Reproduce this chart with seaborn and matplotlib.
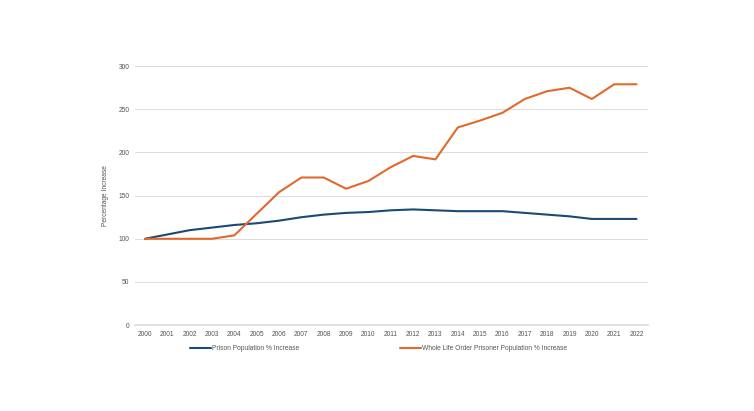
import matplotlib
matplotlib.use("Agg")
import matplotlib.pyplot as plt
import seaborn as sns
import pandas as pd
from matplotlib.lines import Line2D

years = list(range(2000, 2023))
prison = [100, 105, 110, 113, 116, 118, 121, 125, 128, 130, 131, 133, 134,
          133, 132, 132, 132, 130, 128, 126, 123, 123, 123]
whole_life = [100, 100, 100, 100, 104, 129, 154, 171, 171, 158, 167, 183, 196,
              192, 229, 237, 246, 262, 271, 275, 262, 279, 279]
series_names = ["Prison Population % Increase",
                "Whole Life Order Prisoner Population % Increase"]
colors = ["#1b4a72", "#e2692b"]

df = pd.concat([
    pd.DataFrame({"Year": years, "Value": prison, "Series": series_names[0]}),
    pd.DataFrame({"Year": years, "Value": whole_life, "Series": series_names[1]}),
])

sns.set_theme(style="white")
plt.rcParams['font.family'] = ['Liberation Sans', 'DejaVu Sans']

FS = 4.8
fig = plt.figure(figsize=(7.54, 4.11), dpi=100)
ax = fig.add_axes([0.179, 0.209, 0.680, 0.630])
sns.lineplot(data=df, x="Year", y="Value", hue="Series", palette=colors,
             linewidth=1.5, ax=ax, legend=False)

ax.set_xlim(1999.55, 2022.5)
ax.set_ylim(0, 300)
ax.set_yticks([0, 50, 100, 150, 200, 250, 300])
ax.set_xticks(years)
ax.set_xticklabels([str(y) for y in years])
ax.tick_params(axis='y', labelsize=FS, colors="#555555", length=0, pad=4)
ax.tick_params(axis='x', labelsize=FS, colors="#555555", length=0, pad=4.5)
ax.grid(axis='y', color="#dddddd", linewidth=0.8)
ax.set_axisbelow(True)
for s in ["top", "right", "left"]:
    ax.spines[s].set_visible(False)
ax.spines["bottom"].set_color("#dddddd")
ax.set_xlabel("")
ax.set_ylabel("Percentage Increase", fontsize=FS, color="#555555", labelpad=7)

handles = [Line2D([0], [0], color=c, linewidth=1.5) for c in colors]
fig.legend(handles, series_names, loc="center", bbox_to_anchor=(0.502, 0.151),
           ncol=2, frameon=False, fontsize=FS, handlelength=3.2,
           handletextpad=0.15, columnspacing=15, labelcolor="#555555")

fig.savefig("out.png", dpi=100)
